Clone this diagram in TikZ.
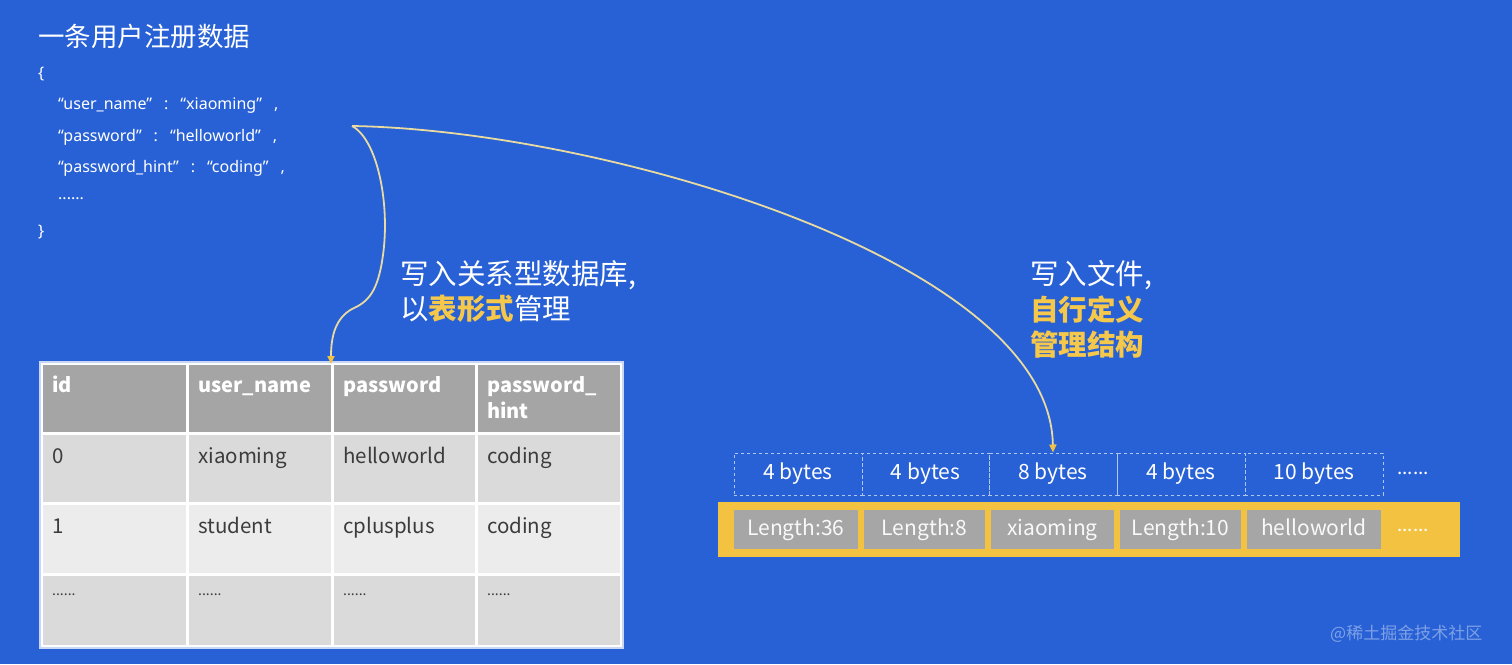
\documentclass[tikz,border=0pt]{standalone}
\usepackage{fontspec}
\setmainfont{Noto Sans CJK SC}
\newfontfamily\latinfont{Noto Sans}
\usetikzlibrary{arrows.meta}
\definecolor{bg}{RGB}{40,97,213}
\definecolor{ybar}{RGB}{242,194,64}
\definecolor{gbox}{RGB}{166,166,166}
\definecolor{curve}{RGB}{232,218,160}
\definecolor{tipc}{RGB}{240,195,70}
\definecolor{ytext}{RGB}{245,200,75}
\definecolor{dashc}{RGB}{175,198,240}
\definecolor{hdr}{RGB}{165,165,165}
\definecolor{rowa}{RGB}{218,218,218}
\definecolor{rowb}{RGB}{236,236,236}
\definecolor{bodytxt}{RGB}{60,60,60}
\newcommand{\fs}[1]{\fontsize{#1}{#1}\selectfont}
\newcommand{\gap}{\hspace{12pt}}
\tikzset{
  txt/.style={anchor=base west, inner sep=0pt, text=white},
  json/.style={txt, font=\latinfont\fs{16}},
  big/.style={txt, font=\fs{28.5}},
  cell/.style={anchor=north west, inner sep=0pt, draw=white, line width=3pt},
  hdrtxt/.style={anchor=base west, inner sep=0pt, text=white, font=\bfseries\fs{20}},
  bodyt/.style={anchor=base west, inner sep=0pt, text=bodytxt, font=\fs{20.5}},
  bytebox/.style={draw=dashc, dashed, line width=1pt, minimum height=42pt, inner sep=0pt, text height=15pt, text depth=4pt, text=white, font=\fs{21}},
  graybox/.style={fill=gbox, minimum height=39pt, inner sep=0pt, text height=15pt, text depth=4pt, text=white!95!gray, font=\fs{21}},
  conn/.style={draw=curve, line width=1.8pt, -{Triangle[length=8pt,width=7pt,color=tipc]}},
}
\begin{document}
\begin{tikzpicture}[x=1pt,y=-1pt]
\fill[bg] (0,0) rectangle (1512,664);
\useasboundingbox (0,0) rectangle (1512,664);

% title and JSON
\node[txt, font=\fs{26.5}] (title) at (38,46) {一条用户注册数据};
\node[json] (ob) at (38,78) {\{};
\node[json] (l1) at (58,109) {“user\_name”\gap:\gap“xiaoming”\gap,};
\node[json] (l2) at (58,141) {“password”\gap:\gap“helloworld”\gap,};
\node[json] (l3) at (58,172) {“password\_hint”\gap:\gap“coding”\gap,};
\node[json] (l4) at (58,199) {......};
\node[json] (cb) at (38,236) {\}};
\coordinate (src) at (352,126);

% labels
\node[big] (lt1) at (400,284) {写入关系型数据库,};
\node[big] (lt2) at (400,319) {以\textcolor{ytext}{\bfseries 表形式}管理};
\node[big] (rt1) at (1030,284) {写入文件,};
\node[big, text=ytext, font=\bfseries\fs{28.5}] (rt2) at (1030,320) {自行定义};
\node[big, text=ytext, font=\bfseries\fs{28.5}] (rt3) at (1030,355) {管理结构};

% table
\foreach \r/\y/\h/\f in {0/362/70/hdr,1/432/70/rowa,2/502/71/rowb,3/573/72/rowa}{
  \foreach \c/\x/\w in {0/40/146,1/186/145,2/331/144,3/475/145}{
    \node[cell, fill=\f, minimum width=\w pt, minimum height=\h pt] (c\r\c) at (\x,\y) {};
  }
}
\draw[draw=white!75!bg, line width=1.5pt] (c00.north west) rectangle (c33.south east);
\node[hdrtxt] (h0) at (52,392) {id};
\node[hdrtxt] (h1) at (198,392) {user\_name};
\node[hdrtxt] (h2) at (343,392) {password};
\node[hdrtxt] (h3) at (487,392) {password\_};
\node[hdrtxt] (h3b) at (487,418) {hint};
\node[bodyt] (t10) at (52,463) {0};
\node[bodyt] (t11) at (198,463) {xiaoming};
\node[bodyt] (t12) at (343,463) {helloworld};
\node[bodyt] (t13) at (487,463) {coding};
\node[bodyt] (t20) at (52,533) {1};
\node[bodyt] (t21) at (198,533) {student};
\node[bodyt] (t22) at (343,533) {cplusplus};
\node[bodyt] (t23) at (487,533) {coding};
\node[bodyt, font=\fs{14}] (t30) at (52,595) {......};
\node[bodyt, font=\fs{14}] (t31) at (198,595) {......};
\node[bodyt, font=\fs{14}] (t32) at (343,595) {......};
\node[bodyt, font=\fs{14}] (t33) at (487,595) {......};

% byte row
\node[bytebox, minimum width=128pt] (b1) at (798,474) {4 bytes};
\node[bytebox, minimum width=127pt] (b2) at (925.5,474) {4 bytes};
\node[bytebox, minimum width=128pt] (b3) at (1053,474) {8 bytes};
\node[bytebox, minimum width=128pt] (b4) at (1181,474) {4 bytes};
\node[bytebox, minimum width=138pt] (b5) at (1314,474) {10 bytes};
\node[txt, font=\fs{19}] (bd) at (1397,474) {......};

% yellow bar
\node[fill=ybar, minimum width=742pt, minimum height=55pt, inner sep=0pt, anchor=north west] (bar) at (718,502) {};
\node[graybox, minimum width=124pt] (g1) at (796,529.5) {Length:36};
\node[graybox, minimum width=121pt] (g2) at (924.5,529.5) {Length:8};
\node[graybox, minimum width=123pt] (g3) at (1052.5,529.5) {xiaoming};
\node[graybox, minimum width=121pt] (g4) at (1180.5,529.5) {Length:10};
\node[graybox, minimum width=134pt] (g5) at (1314,529.5) {helloworld};
\node[txt, font=\fs{19}] (gd) at (1397,531) {......};

% connectors
\coordinate (tt) at (c02.north west);
\draw[conn] (src) .. controls (378,140) and (390,205) .. (383,255)
   .. controls (378,292) and (368,302) .. (352,309)
   .. controls (336,318) and (331,335) .. ([yshift=-2pt]tt);
\draw[conn] (src) .. controls (600,130) and (1050,260) .. (b3.north);

% watermark
\node[txt, text=white, opacity=0.4, font=\fs{17}] (wm) at (1330,639) {@稀土掘金技术社区};
\end{tikzpicture}
\end{document}
